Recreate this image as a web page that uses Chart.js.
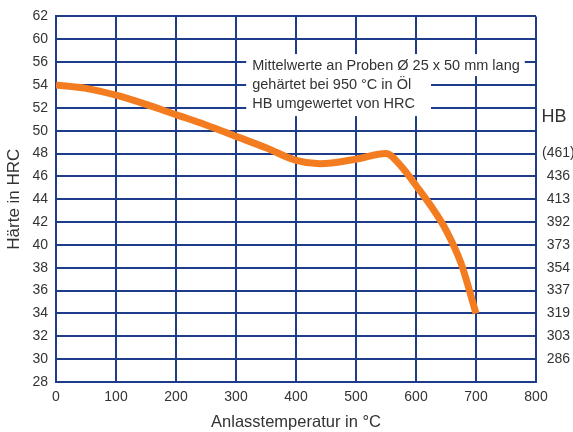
<!DOCTYPE html>
<html>
<head>
<meta charset="utf-8">
<script src="https://cdn.jsdelivr.net/npm/chart.js@4"></script>
<style>
  html, body { margin: 0; padding: 0; background: #fff; }
  #wrap { width: 573px; height: 432px; position: relative; }
</style>
</head>
<body>
<div id="wrap"><canvas id="c"></canvas></div>
<script>
// Anlasskurve: Härte (HRC) über Anlasstemperatur
var temps = [0, 50, 100, 150, 200, 250, 300, 350, 400, 440, 500, 550, 575, 600, 625, 650, 675, 700];
var hrc   = [54.0, 53.7, 53.1, 52.3, 51.4, 50.5, 49.5, 48.5, 47.4, 47.1, 47.5, 48.0, 46.9, 45.2, 43.4, 41.3, 38.4, 34.0];

// left axis labels (the original skips 58)
var yTickLabels = ['28', '30', '32', '34', '36', '38', '40', '42', '44', '46', '48', '50', '52', '54', '56', '60', '62'];
// right axis: HB equivalents
var hbLevels = [48, 46, 44, 42, 40, 38, 36, 34, 32, 30];
var hbLabels = ['(461)', '436', '413', '392', '373', '354', '337', '319', '303', '286'];

var noteLines = [
  'Mittelwerte an Proben Ø 25 x 50 mm lang',
  'gehärtet bei 950 °C in Öl',
  'HB umgewertet von HRC'
];

var FONT = "'Liberation Sans', Arial, sans-serif";
var GRID = '#1d3d8b';
var TXT = '#333333';

var notePlugin = {
  id: 'note',
  afterDraw: function (chart) {
    var ctx = chart.ctx;
    var xs = chart.scales.x, ys = chart.scales.y;
    var x0 = xs.getPixelForValue(317);
    var top = ys.getPixelForValue(56) - 8;
    var lh = 20;
    ctx.save();
    ctx.font = '14.5px ' + FONT;
    var w = noteLines.map(function (t) { return ctx.measureText(t).width; });
    ctx.fillStyle = '#fff';
    ctx.fillRect(x0, top, w[0] + 11, lh + 2);
    var w23 = Math.max(w[1], w[2]) + 22;
    ctx.fillRect(x0, top + lh, w23, lh * 2 + 2);
    ctx.fillStyle = TXT;
    ctx.textBaseline = 'middle';
    noteLines.forEach(function (t, i) {
      ctx.fillText(t, x0 + 6, top + 12 + i * 19);
    });
    // HB heading on the right
    ctx.font = '18px ' + FONT;
    ctx.textAlign = 'center';
    ctx.fillText('HB', 554, ys.getPixelForValue(51.2));
    ctx.restore();
  }
};

new Chart(document.getElementById('c'), {
  type: 'line',
  data: {
    datasets: [{
      data: temps.map(function (t, i) { return { x: t, y: hrc[i] }; }),
      borderColor: '#f47c20',
      borderWidth: 7,
      pointRadius: 0,
      fill: false,
      cubicInterpolationMode: 'monotone',
      borderCapStyle: 'butt'
    }]
  },
  options: {
    responsive: true,
    maintainAspectRatio: false,
    animation: false,
    layout: { padding: { top: 16, right: 0, left: 0, bottom: 0 } },
    plugins: { legend: { display: false }, tooltip: { enabled: false } },
    scales: {
      x: {
        type: 'linear',
        min: 0, max: 800,
        ticks: { stepSize: 100, color: TXT, font: { family: FONT, size: 14 }, padding: 7, maxRotation: 0 },
        grid: { color: GRID, lineWidth: 2, drawTicks: false },
        border: { color: GRID, width: 2 },
        title: { display: true, text: 'Anlasstemperatur in °C', color: TXT, font: { family: FONT, size: 16.5 }, padding: { top: 0, bottom: 0 } },
        afterFit: function (s) { s.height = 50; }
      },
      y: {
        position: 'left',
        min: 28, max: 60,
        ticks: {
          stepSize: 2, color: TXT, font: { family: FONT, size: 14 }, padding: 8,
          callback: function (v) { return yTickLabels[(v - 28) / 2]; }
        },
        grid: { color: GRID, lineWidth: 2, drawTicks: false },
        border: { color: GRID, width: 2 },
        title: { display: true, text: 'Härte in HRC', color: TXT, font: { family: FONT, size: 17 }, padding: { top: 4, bottom: 0 } },
        afterFit: function (s) { s.width = 56; }
      },
      y2: {
        position: 'right',
        min: 28, max: 60,
        ticks: {
          stepSize: 2, color: TXT, font: { family: FONT, size: 14 }, padding: 6, crossAlign: 'center',
          callback: function (v) {
            var k = hbLevels.indexOf(v);
            return k < 0 ? '' : hbLabels[k];
          }
        },
        grid: { display: false, drawTicks: false },
        border: { display: false },
        afterFit: function (s) { s.width = 37; }
      }
    }
  },
  plugins: [notePlugin]
});
</script>
</body>
</html>
